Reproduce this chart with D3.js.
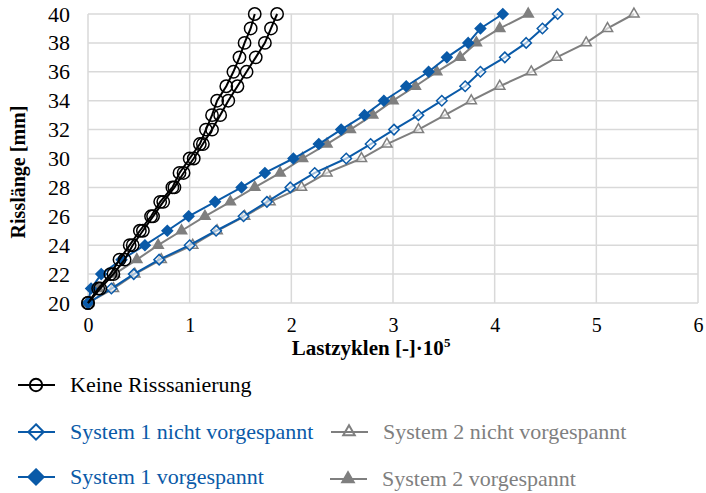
<!DOCTYPE html>
<html>
<head>
<meta charset="utf-8">
<script src="https://cdn.jsdelivr.net/npm/d3@7"></script>
<style>
  body { margin: 0; background: #fff; }
  svg text { font-family: "Liberation Serif", "Times New Roman", serif; }
</style>
</head>
<body>
<svg width="706" height="493"></svg>
<script>
// crack length (mm), one point per mm
var crackLength = d3.range(20, 41);

// load cycles [-]·10^5 for each crack length
var keine1 = [0, 0.10, 0.22, 0.31, 0.41, 0.51, 0.62, 0.71, 0.83, 0.90, 1.00, 1.10, 1.16, 1.22, 1.27, 1.36, 1.43, 1.49, 1.54, 1.60, 1.64];
var keine2 = [0, 0.12, 0.25, 0.36, 0.44, 0.54, 0.64, 0.74, 0.85, 0.94, 1.04, 1.13, 1.22, 1.30, 1.38, 1.47, 1.56, 1.65, 1.74, 1.80, 1.86];
var sys1nv = [0, 0.23, 0.45, 0.70, 1.00, 1.26, 1.53, 1.76, 1.99, 2.23, 2.54, 2.78, 3.01, 3.25, 3.48, 3.71, 3.86, 4.10, 4.31, 4.47, 4.62];
var sys2nv = [0, 0.25, 0.46, 0.72, 1.03, 1.27, 1.54, 1.79, 2.10, 2.35, 2.69, 2.94, 3.25, 3.51, 3.77, 4.05, 4.36, 4.61, 4.90, 5.11, 5.37];
var sys1v  = [0, 0.03, 0.13, 0.33, 0.56, 0.78, 0.99, 1.25, 1.51, 1.74, 2.02, 2.27, 2.49, 2.72, 2.91, 3.13, 3.35, 3.53, 3.74, 3.86, 4.08];
var sys2v  = [0, 0.10, 0.26, 0.48, 0.69, 0.92, 1.15, 1.40, 1.64, 1.89, 2.11, 2.35, 2.58, 2.80, 3.00, 3.22, 3.43, 3.66, 3.82, 4.05, 4.33];

var xTicks = [0, 1, 2, 3, 4, 5, 6];
var yTicks = [20, 22, 24, 26, 28, 30, 32, 34, 36, 38, 40];

var blue = "#0a5aa8", gray = "#7f7f7f", black = "#000000";
var serif = "'Liberation Serif', 'Times New Roman', serif";

var series = [
  {name: "System 2 nicht vorgespannt", values: sys2nv, color: gray, shape: "triangle", filled: false},
  {name: "System 1 nicht vorgespannt", values: sys1nv, color: blue, shape: "diamond", filled: false},
  {name: "System 2 vorgespannt", values: sys2v, color: gray, shape: "triangle", filled: true},
  {name: "System 1 vorgespannt", values: sys1v, color: blue, shape: "diamond", filled: true},
  {name: "Keine Risssanierung", values: keine2, color: black, shape: "circle", filled: false},
  {name: "Keine Risssanierung", values: keine1, color: black, shape: "circle", filled: false}
];

var svg = d3.select("svg");
var margin = {left: 88, right: 8, top: 14, bottom: 190};
var width = 706 - margin.left - margin.right,
    height = 493 - margin.top - margin.bottom;

var x = d3.scaleLinear().domain([0, 6]).range([margin.left, margin.left + width]);
var y = d3.scaleLinear().domain([20, 40]).range([margin.top + height, margin.top]);

// grid
var grid = svg.append("g");
grid.selectAll("line.v").data(xTicks).enter().append("line")
  .attr("x1", function(d) { return x(d); }).attr("x2", function(d) { return x(d); })
  .attr("y1", y(20)).attr("y2", y(40))
  .attr("stroke", "#d9d9d9").attr("stroke-width", 1.5);
grid.selectAll("line.h").data(yTicks).enter().append("line")
  .attr("x1", x(0)).attr("x2", x(6))
  .attr("y1", function(d) { return y(d); }).attr("y2", function(d) { return y(d); })
  .attr("stroke", "#d9d9d9").attr("stroke-width", 1.5);

// axes
var xAxis = svg.append("g")
  .attr("transform", "translate(0," + (y(20) + 15) + ")")
  .call(d3.axisBottom(x).tickValues(xTicks).tickSize(0).tickPadding(0).tickFormat(d3.format("d")));
var yAxis = svg.append("g")
  .attr("transform", "translate(" + (x(0) - 18) + ",0)")
  .call(d3.axisLeft(y).tickValues(yTicks).tickSize(0).tickPadding(0).tickFormat(d3.format("d")));
[xAxis, yAxis].forEach(function(a) {
  a.attr("font-family", null);
  a.select(".domain").remove();
  a.selectAll("text").style("font-family", serif).attr("fill", "#000");
});
xAxis.selectAll("text").style("font-size", "20px");
yAxis.selectAll("text").style("font-size", "22px");

svg.append("text")
  .attr("transform", "translate(25,172) rotate(-90)")
  .attr("text-anchor", "middle")
  .style("font-family", serif)
  .style("font-weight", "bold").style("font-size", "20px")
  .text("Risslänge [mm]");

var xt = svg.append("text")
  .attr("x", 371).attr("y", 355)
  .attr("text-anchor", "middle")
  .style("font-family", serif)
  .style("font-weight", "bold").style("font-size", "21px");
xt.append("tspan").text("Lastzyklen [-]·10");
xt.append("tspan").style("font-size", "13px").attr("dy", -8).text("5");

// markers
function markerPath(shape) {
  if (shape == "diamond") return d3.symbol().type(d3.symbolDiamond2).size(70)();
  if (shape == "triangle") return d3.symbol().type(d3.symbolTriangle2).size(75)();
  return d3.symbol().type(d3.symbolCircle).size(120)();
}

var line = d3.line()
  .x(function(d) { return x(d.v); })
  .y(function(d) { return y(d.l); });

series.forEach(function(s) {
  var pts = s.values.map(function(v, i) { return {v: v, l: crackLength[i]}; });
  var g = svg.append("g");
  g.append("path").datum(pts)
    .attr("d", line)
    .attr("fill", "none").attr("stroke", s.color).attr("stroke-width", 2);
  g.selectAll("path.m").data(pts).enter().append("path")
    .attr("class", "m")
    .attr("transform", function(d) { return "translate(" + x(d.v) + "," + y(d.l) + ")"; })
    .attr("d", markerPath(s.shape))
    .attr("fill", s.filled ? s.color : (s.shape == "circle" ? "none" : "#fff"))
    .attr("fill-opacity", s.filled ? 1 : (s.shape == "circle" ? 0 : 0.6))
    .attr("stroke", s.color).attr("stroke-width", 1.5);
});

// legend
var legendItems = [
  {name: "Keine Risssanierung", color: black, shape: "circle", filled: false, x: 18, y: 385},
  {name: "System 1 nicht vorgespannt", color: blue, shape: "diamond", filled: false, x: 18, y: 432},
  {name: "System 2 nicht vorgespannt", color: gray, shape: "triangle", filled: false, x: 331, y: 432},
  {name: "System 1 vorgespannt", color: blue, shape: "diamond", filled: true, x: 18, y: 477},
  {name: "System 2 vorgespannt", color: gray, shape: "triangle", filled: true, x: 330, y: 479}
];

var legend = svg.append("g").selectAll("g").data(legendItems).enter().append("g")
  .attr("transform", function(d) { return "translate(" + d.x + "," + d.y + ")"; });
legend.append("line")
  .attr("x1", 0).attr("x2", 37).attr("y1", 0).attr("y2", 0)
  .attr("stroke", function(d) { return d.color; }).attr("stroke-width", 2);
legend.append("path")
  .attr("transform", "translate(18,0)")
  .attr("d", function(d) {
    if (d.shape == "diamond") return d3.symbol().type(d3.symbolDiamond2).size(150)();
    if (d.shape == "triangle") return d3.symbol().type(d3.symbolTriangle2).size(95)();
    return d3.symbol().type(d3.symbolCircle).size(120)();
  })
  .attr("fill", function(d) { return d.filled ? d.color : "#fff"; })
  .attr("fill-opacity", function(d) { return d.filled ? 1 : 0; })
  .attr("stroke", function(d) { return d.color; }).attr("stroke-width", 2);
legend.append("text")
  .attr("x", 52)
  .attr("y", 0).attr("dy", "0.33em")
  .style("font-size", "22px")
  .attr("fill", function(d) { return d.color; })
  .text(function(d) { return d.name; });
</script>
</body>
</html>
